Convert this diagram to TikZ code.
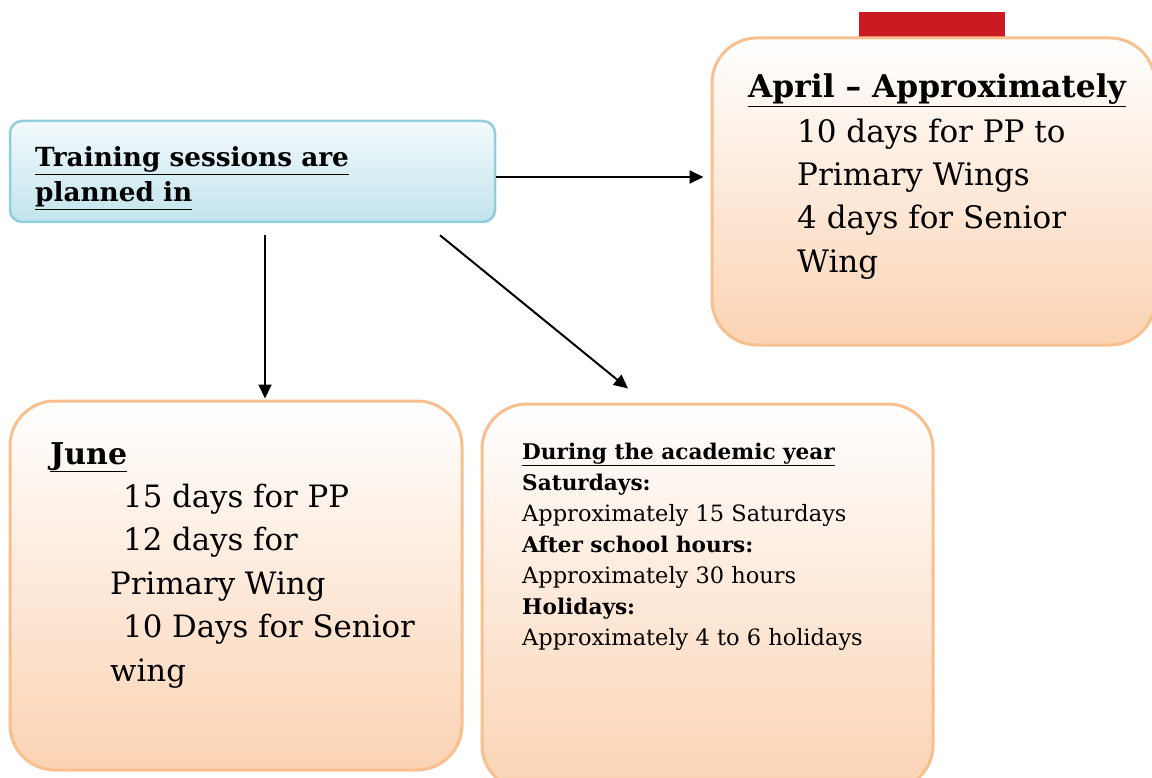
\documentclass[tikz,border=0pt]{standalone}
\usepackage{fontspec}
\setmainfont{DejaVu Serif}
\usetikzlibrary{positioning,arrows.meta}
\definecolor{peachline}{HTML}{F9C08F}
\definecolor{peachfill}{HTML}{FBD3B3}
\definecolor{blueline}{HTML}{92CDDC}
\definecolor{bluefill}{HTML}{C2E4ED}
\definecolor{bluetop}{HTML}{F2FAFC}
\definecolor{tabred}{HTML}{CC1A22}
\tikzset{peachbox/.style={draw=peachline,line width=3pt,rounded corners=45pt,top color=white,middle color=peachfill!28!white,bottom color=peachfill},
bluebox/.style={draw=blueline,line width=2.5pt,rounded corners=12pt,top color=bluetop,bottom color=bluefill},
txt/.style={anchor=base west,inner sep=0pt,align=left},
arr/.style={-{Triangle[length=14pt,width=13pt]},line width=2pt}}
\newcommand{\bhead}[1]{{\fontsize{21.6}{31}\selectfont\bfseries #1}}

\begin{document}
\begin{tikzpicture}[x=1pt,y=-1pt]
\useasboundingbox (0,0) rectangle (1152,778);
\clip (0,0) rectangle (1152,778);
\fill[tabred] (859,12) rectangle (1005,38);
\node[bluebox,minimum width=485pt,minimum height=101pt] (train) at (252.5,171.5) {};
\node[peachbox,minimum width=443pt,minimum height=307pt] (april) at (933.5,191.5) {};
\node[peachbox,minimum width=452pt,minimum height=369pt] (june) at (236,585.5) {};
\node[peachbox,minimum width=451pt,minimum height=386pt] (acad) at (707.5,597) {};
% texts (anchored at the baseline of their last line)
\node[txt,font=\fontsize{26.3}{35}\selectfont\bfseries] (traintxt) at (35,202)
  {\underline{Training sessions are}\\\underline{planned in}};
\node[txt,font=\fontsize{31.3}{43}\selectfont\bfseries] (aprilhead) at (748,98)
  {\underline{April – Approximately}};
\node[txt,font=\fontsize{31}{43.5}\selectfont] (aprilbody) at (797,272.5)
  {10 days for PP to\\Primary Wings\\4 days for Senior\\Wing};
\node[txt,font=\fontsize{30}{43}\selectfont\bfseries] (junehead) at (50,464)
  {\underline{June}};
\node[txt,font=\fontsize{30.8}{43.5}\selectfont] (junebody) at (110,681)
  {\hspace*{13pt}15 days for PP\\\hspace*{13pt}12 days for\\Primary Wing\\\hspace*{13pt}10 Days for Senior\\wing};
\node[txt,font=\fontsize{22.5}{31}\selectfont] (acadtxt) at (522,645)
  {\bhead{\underline{During the academic year}}\\\bhead{Saturdays:}\\Approximately 15 Saturdays\\\bhead{After school hours:}\\Approximately 30 hours\\\bhead{Holidays:}\\Approximately 4 to 6 holidays};
% connectors
\draw[arr,shorten >=7pt] ([yshift=-5.5pt]train.east) -- ([yshift=14.5pt]april.west);
\draw[arr,shorten <=12pt,shorten >=1pt] ([xshift=12.5pt]train.south) -- ([xshift=29pt]june.north);
\draw[arr] ([xshift=187.5pt,yshift=-12pt]train.south) -- ([xshift=-79.5pt,yshift=14pt]acad.north);
\end{tikzpicture}
\end{document}
